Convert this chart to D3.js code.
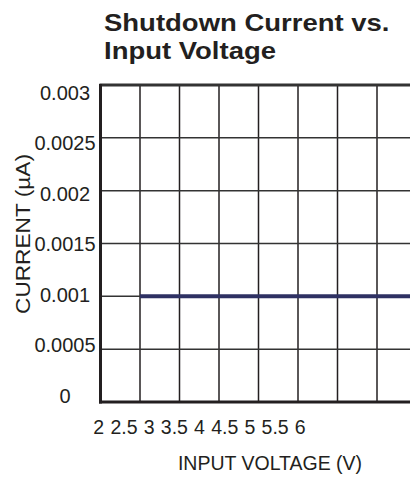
<!DOCTYPE html>
<html>
<head>
<meta charset="utf-8">
<script src="https://cdn.jsdelivr.net/npm/d3@7"></script>
<style>
  body { margin: 0; background: #fff; }
  svg { display: block; font-family: "Liberation Sans", Arial, sans-serif; }
</style>
</head>
<body>
<svg id="chart" width="410" height="477"></svg>
<script>
// data
var voltage = [2.5, 3, 3.5, 4, 4.5, 5, 5.5, 6];
var current = [0.001, 0.001, 0.001, 0.001, 0.001, 0.001, 0.001, 0.001];
var xTicks = [2, 2.5, 3, 3.5, 4, 4.5, 5, 5.5, 6];
var yTicks = [0, 0.0005, 0.001, 0.0015, 0.002, 0.0025, 0.003];
var titleLines = ["Shutdown Current vs.", "Input Voltage"];

var svg = d3.select("#chart");

var x = d3.scaleLinear().domain([2, 6]).range([100.5, 416.5]);
var y = d3.scaleLinear().domain([0, 0.003]).range([402, 85]);
// tick labels in the original sit on their own, tighter spacing
var xLab = d3.scaleLinear().domain([2, 6]).range([98.8, 300.3]);
var yLab = d3.scaleLinear().domain([0, 0.003]).range([396, 92.7]);

// title
svg.selectAll(".title")
  .data(titleLines).enter().append("text")
  .attr("class", "title")
  .attr("transform", (d, i) => `translate(104,${31 + i * 28}) scale(1.17,1)`)
  .attr("font-size", 23.5)
  .attr("font-weight", "bold")
  .attr("fill", "#231f20")
  .text(d => d);

// grid
svg.append("g").selectAll("line")
  .data(xTicks.slice(1)).enter().append("line")
  .attr("x1", d => x(d)).attr("x2", d => x(d))
  .attr("y1", y(0.003)).attr("y2", y(0))
  .attr("stroke", "#231f20").attr("stroke-width", 1.5);

svg.append("g").selectAll("line")
  .data(yTicks.slice(1, -1)).enter().append("line")
  .attr("x1", x(2)).attr("x2", 410)
  .attr("y1", d => y(d)).attr("y2", d => y(d))
  .attr("stroke", "#333").attr("stroke-width", 1.5);

// frame: top, left, bottom
svg.append("line")
  .attr("x1", x(2) - 1).attr("x2", 410)
  .attr("y1", y(0.003)).attr("y2", y(0.003))
  .attr("stroke", "#333").attr("stroke-width", 3);
svg.append("line")
  .attr("x1", x(2)).attr("x2", x(2))
  .attr("y1", y(0.003) - 1).attr("y2", y(0) + 1.5)
  .attr("stroke", "#231f20").attr("stroke-width", 3);
svg.append("line")
  .attr("x1", x(2) - 1.5).attr("x2", 410)
  .attr("y1", y(0)).attr("y2", y(0))
  .attr("stroke", "#231f20").attr("stroke-width", 3);

// series
var line = d3.line()
  .x((d, i) => x(voltage[i]))
  .y(d => y(d));
svg.append("path")
  .datum(current)
  .attr("d", line)
  .attr("fill", "none")
  .attr("stroke", "#2e3163")
  .attr("stroke-width", 4);

// tick labels
svg.append("g").selectAll("text")
  .data(yTicks).enter().append("text")
  .attr("x", 65)
  .attr("y", d => yLab(d))
  .attr("dy", "0.35em")
  .attr("text-anchor", "middle")
  .attr("font-size", 20)
  .attr("fill", "#231f20")
  .text(d => d);

svg.append("g").selectAll("text")
  .data(xTicks).enter().append("text")
  .attr("x", d => xLab(d))
  .attr("y", 434)
  .attr("text-anchor", "middle")
  .attr("font-size", 19.5)
  .attr("fill", "#231f20")
  .text(d => d);

// axis titles
svg.append("text")
  .attr("x", 270).attr("y", 470)
  .attr("text-anchor", "middle")
  .attr("font-size", 19.5)
  .attr("fill", "#231f20")
  .text("INPUT VOLTAGE (V)");

svg.append("text")
  .attr("transform", "translate(30,234) rotate(-90) scale(1.08,1)")
  .attr("text-anchor", "middle")
  .attr("font-size", 21)
  .attr("fill", "#231f20")
  .text("CURRENT (\u00b5A)");
</script>
</body>
</html>
